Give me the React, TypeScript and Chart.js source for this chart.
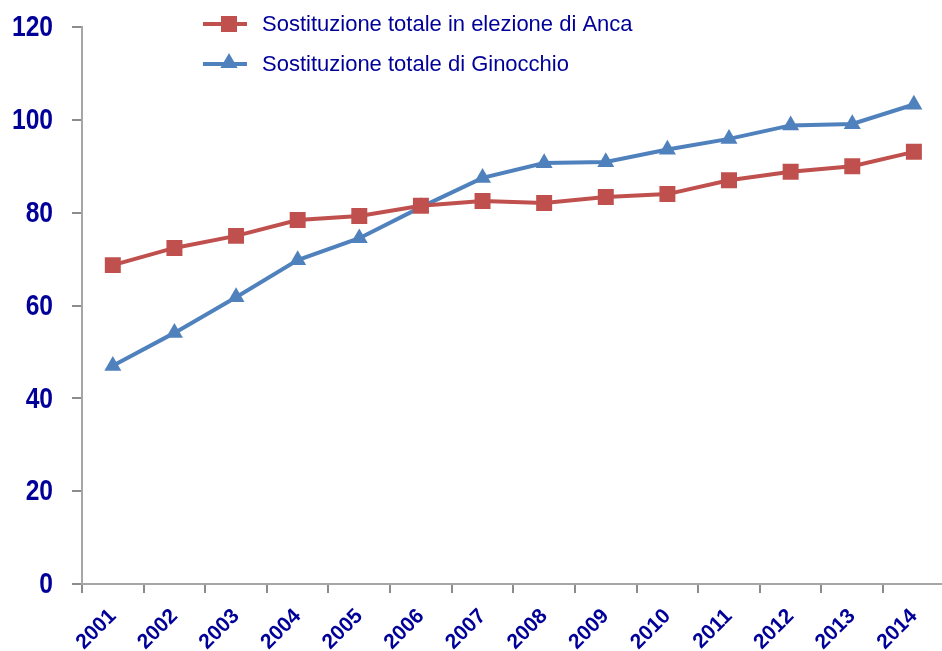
import React, { useEffect, useRef } from "react";
import { Chart, registerables } from "chart.js";

Chart.register(...registerables);

const years = ["2001", "2002", "2003", "2004", "2005", "2006", "2007", "2008", "2009", "2010", "2011", "2012", "2013", "2014"];
const ancaLabel = "Sostituzione totale in elezione di Anca";
const ginocchioLabel = "Sostituzione totale di Ginocchio";
const ancaValues = [68.7, 72.4, 75.0, 78.4, 79.3, 81.5, 82.5, 82.1, 83.4, 84.0, 87.0, 88.8, 90.0, 93.1];
const ginocchioValues = [47.0, 54.1, 61.8, 69.8, 74.5, 81.2, 87.5, 90.7, 90.9, 93.6, 95.9, 98.8, 99.1, 103.3];
const yTicks = [0, 20, 40, 60, 80, 100, 120];

const RED = "#C0504D";
const BLUE = "#4F81BD";
const NAVY = "#000099";

const legendPlugin = {
  id: "customLegend",
  afterDraw(chart: any) {
    const ctx = chart.ctx;
    const items = chart.data.datasets.map((ds: any) => ({
      label: ds.label,
      color: ds.borderColor,
      style: ds.pointStyle,
    }));
    ctx.save();
    items.forEach((it: any, i: number) => {
      const y = 24 + i * 40;
      ctx.strokeStyle = it.color;
      ctx.lineWidth = 4;
      ctx.beginPath();
      ctx.moveTo(203, y);
      ctx.lineTo(247, y);
      ctx.stroke();
      ctx.fillStyle = it.color;
      if (it.style === "rect") {
        ctx.fillRect(229 - 8, y - 8, 16, 16);
      } else {
        const r = 10;
        ctx.beginPath();
        ctx.moveTo(229, y - r - 1);
        ctx.lineTo(229 + r * 0.866, y + r * 0.5 - 1);
        ctx.lineTo(229 - r * 0.866, y + r * 0.5 - 1);
        ctx.closePath();
        ctx.fill();
      }
      ctx.fillStyle = NAVY;
      ctx.font = "22px 'Liberation Sans', Arial, sans-serif";
      ctx.textBaseline = "middle";
      ctx.textAlign = "left";
      ctx.fillText(it.label, 262, y + 1);
    });
    ctx.restore();
  },
};

// y tick labels in a condensed bold face (horizontally compressed)
const yLabelPlugin = {
  id: "yLabels",
  afterDraw(chart: any) {
    const ctx = chart.ctx;
    const scale = chart.scales.y;
    ctx.save();
    ctx.fillStyle = NAVY;
    ctx.font = "bold 30px 'Liberation Sans', Arial, sans-serif";
    ctx.textAlign = "right";
    ctx.textBaseline = "middle";
    scale.ticks.forEach((t: any) => {
      const y = scale.getPixelForValue(t.value);
      ctx.save();
      ctx.translate(scale.right - 29, y + 1);
      ctx.scale(0.82, 1);
      ctx.fillText(String(t.value), 0, 0);
      ctx.restore();
    });
    ctx.restore();
  },
};

export default function App() {
  const ref = useRef<HTMLCanvasElement | null>(null);
  useEffect(() => {
    if (!ref.current) return;
    const chart = new Chart(ref.current, {
      type: "line",
      data: {
        labels: years,
        datasets: [
          {
            label: ancaLabel,
            data: ancaValues,
            borderColor: RED,
            backgroundColor: RED,
            borderWidth: 4,
            pointStyle: "rect",
            pointRadius: 11.3,
            pointBorderWidth: 0,
            tension: 0,
          },
          {
            label: ginocchioLabel,
            data: ginocchioValues,
            borderColor: BLUE,
            backgroundColor: BLUE,
            borderWidth: 4,
            pointStyle: "triangle",
            pointRadius: 9.8,
            pointBorderWidth: 0,
            tension: 0,
          },
        ],
      },
      options: {
        responsive: false,
        animation: false,
        layout: { padding: { top: 27, right: 5, left: 0, bottom: 0 } },
        plugins: { legend: { display: false }, tooltip: { enabled: false } },
        scales: {
          x: {
            offset: true,
            grid: { offset: true, drawOnChartArea: false, tickLength: 9, color: "#8c8c8c", lineWidth: 2 },
            border: { color: "#a6a6a6", width: 2 },
            ticks: {
              color: NAVY,
              font: { family: "'Liberation Sans', Arial", size: 21, weight: "bold" },
              minRotation: 45,
              maxRotation: 45,
              padding: 11,
              autoSkip: false,
            },
            afterFit(scale: any) {
              scale.height = 67;
            },
          },
          y: {
            min: 0,
            max: 120,
            afterBuildTicks(scale: any) {
              scale.ticks = yTicks.map((v) => ({ value: v }));
            },
            grid: { drawOnChartArea: false, tickLength: 10, color: "#8c8c8c", lineWidth: 2 },
            border: { color: "#a6a6a6", width: 2 },
            ticks: { display: false },
            afterFit(scale: any) {
              scale.width = 82;
            },
          },
        },
      },
      plugins: [legendPlugin, yLabelPlugin],
    });
    return () => chart.destroy();
  }, []);
  return (
    <div style={{ position: "fixed", left: 0, top: 0, width: 942, height: 651, overflow: "hidden", background: "#fff" }}>
      <canvas ref={ref} width={956} height={651} style={{ display: "block" }} />
    </div>
  );
}
